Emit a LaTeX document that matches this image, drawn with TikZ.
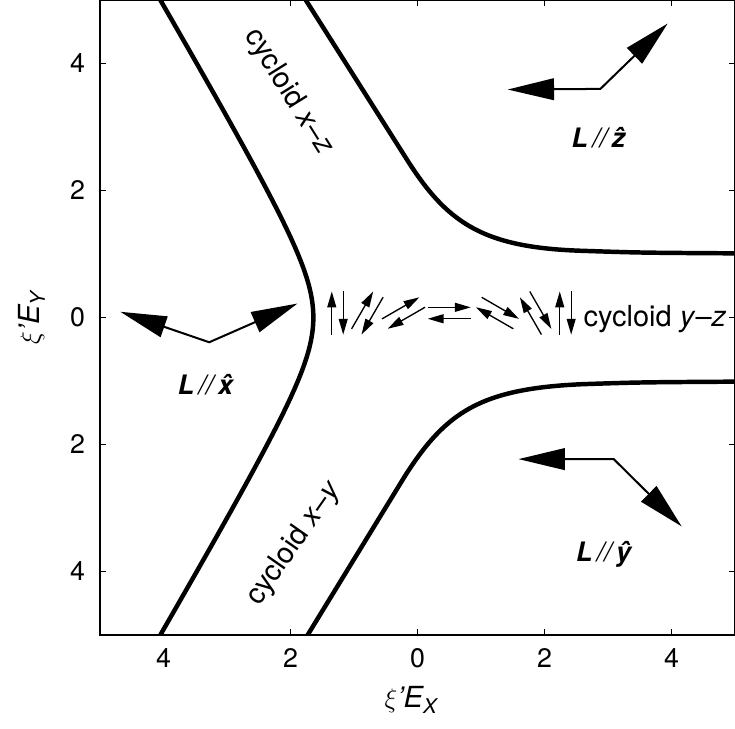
\documentclass[tikz,border=0pt]{standalone}
\usepackage{fontspec}
\setmainfont{TeX Gyre Heros}
\usetikzlibrary{arrows.meta, calc}

\begin{document}
\begin{tikzpicture}[
  frame/.style  = {line width=0.6pt},
  tick/.style   = {line width=0.6pt},
  branch/.style = {line width=2pt, line join=round},
  bigarr/.style = {{Triangle[length=7.3mm, width=3.4mm]}-{Triangle[length=7.3mm, width=3.4mm]},
                   line width=0.9pt},
  spin/.style   = {-{Triangle[length=2.5mm, width=1.4mm]}, line width=0.6pt},
  num/.style    = {font=\fontsize{12}{14}\selectfont, inner sep=0pt},
  axlbl/.style  = {font=\fontsize{13}{15}\selectfont\itshape, inner sep=0pt},
  cyc/.style    = {font=\fontsize{13}{15}\selectfont, inner sep=0pt},
  ldir/.style   = {font=\fontsize{12}{14}\selectfont\itshape, inner sep=0pt},
]
\useasboundingbox (-6.575,-6.48) rectangle (5,5);

% frame and ticks
\draw[frame] (-5,-5) rectangle (5,5);
\foreach \t [count=\i] in {-4,-2,0,2,4} {
  \draw[tick] (\t,-5) -- ++(0,0.1);
  \draw[tick] (\t,5) -- ++(0,-0.1);
  \draw[tick] (-5,\t) -- ++(0.1,0);
  \draw[tick] (5,\t) -- ++(-0.1,0);
}
\foreach \t/\s [count=\i] in {-4/4,-2/2,0/0,2/2,4/4} {
  \node[num] (xt\i) at (\t,-5.37) {\s};
  \node[num, anchor=east] (yt\i) at (-5.23,\t) {\s};
}

\node[axlbl] (xlab) at (-0.1,-6.02) {\(\xi\)’E\textsubscript{X}};
\node[axlbl, rotate=90] (ylab) at (-6.08,0) {\(\xi\)’E\textsubscript{Y}};

% phase boundaries
\begin{scope}
  \clip (-5,-5) rectangle (5,5);
  \draw[branch] plot[domain=-5.1:5.1, samples=81, smooth, variable=\y]
    ({-1.052-0.588*sqrt(1+\y*\y)}, \y);
  \draw[branch] (-1.76,5) -- (-0.2,2.54) .. controls (0.45,1.5) and (1.0,1.1)
    .. (2.6,1.05) .. controls (3.5,1.02) .. (5.05,1.01);
  \draw[branch] (-1.73,-5) -- (-0.2,-2.5) .. controls (0.45,-1.48) and (1.0,-1.12)
    .. (2.6,-1.05) .. controls (3.5,-1.02) .. (5.05,-1.01);
\end{scope}

\node[cyc, rotate=-58] (cxz) at (-2.03,3.55) {cycloid \textit{x}–\textit{z}};
\node[cyc, rotate=55] (cxy) at (-1.94,-3.56) {cycloid \textit{x}–\textit{y}};
\node[cyc, anchor=base west] (cyz) at (2.61,-0.14) {cycloid \textit{y}–\textit{z}};

% spins of the y-z cycloid
\foreach \cx/\ang [count=\i] in {-1.26/90, -0.79/60, -0.22/30, 0.50/0,
                                 1.26/-30, 1.86/-60, 2.33/-90} {
  \coordinate (sp\i) at (\cx,0.07);
  \coordinate (sa\i) at ($(sp\i)+(\ang+90:0.09)+(\ang+180:0.34)$);
  \coordinate (sb\i) at ($(sp\i)+(\ang-90:0.09)+(\ang:0.34)$);
  \draw[spin] (sa\i) -- ++(\ang:0.68);
  \draw[spin] (sb\i) -- ++(\ang+180:0.68);
}

% L directions
\coordinate (xv) at (-3.28,-0.39);
\coordinate (xl) at (-4.68,0.09);
\coordinate (xr) at (-1.89,0.22);
\draw[bigarr] (xl) -- (xv) -- (xr);
\node[ldir, anchor=base] (lx) at (-3.34,-1.22) {\textbf{L}\,//\,\textbf{\^{x}}};

\coordinate (zv) at (2.88,3.60);
\coordinate (zl) at (1.42,3.59);
\coordinate (zr) at (3.94,4.63);
\draw[bigarr] (zl) -- (zv) -- (zr);
\node[ldir, anchor=base] (lz) at (2.85,2.67) {\textbf{L}\,//\,\textbf{\^{z}}};

\coordinate (yv) at (3.09,-2.23);
\coordinate (yl) at (1.59,-2.23);
\coordinate (yr) at (4.16,-3.29);
\draw[bigarr] (yl) -- (yv) -- (yr);
\node[ldir, anchor=base] (ly) at (2.93,-3.85) {\textbf{L}\,//\,\textbf{\^{y}}};

\end{tikzpicture}
\end{document}
